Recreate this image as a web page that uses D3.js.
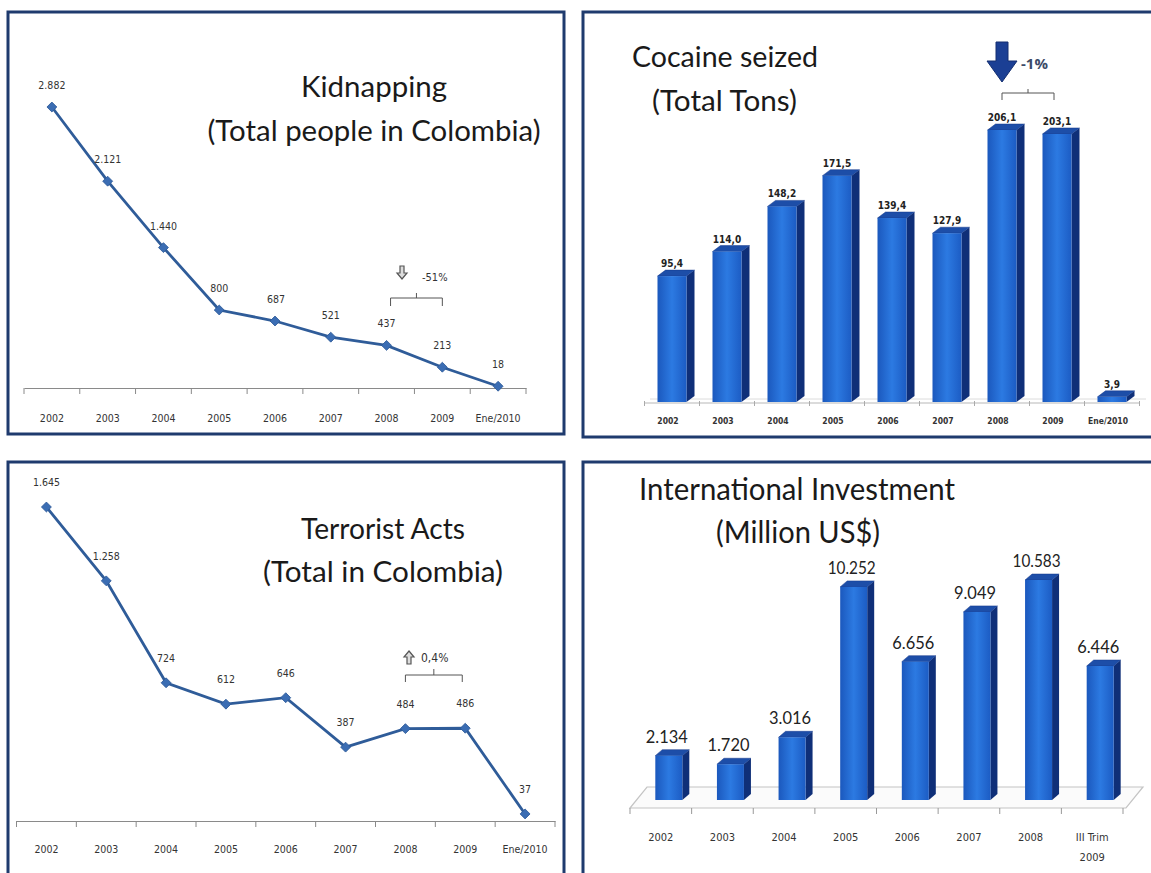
<!DOCTYPE html>
<html><head><meta charset="utf-8">
<script src="https://cdn.jsdelivr.net/npm/d3@7"></script>
<style>
html,body{margin:0;padding:0;background:#fff;}
svg{display:block;}
</style></head>
<body>
<svg id="c" width="1151" height="873"></svg>
<script>
// ---------- DATA ----------
const kidCats = ["2002","2003","2004","2005","2006","2007","2008","2009","Ene/2010"];
const kidValues = [2882,2121,1440,800,687,521,437,213,18];
const terrCats = ["2002","2003","2004","2005","2006","2007","2008","2009","Ene/2010"];
const terrValues = [1645,1258,724,612,646,387,484,486,37];
const cocCats = ["2002","2003","2004","2005","2006","2007","2008","2009","Ene/2010"];
const cocValues = [95.4,114.0,148.2,171.5,139.4,127.9,206.1,203.1,3.9];
const invCats = ["2002","2003","2004","2005","2006","2007","2008","III Trim|2009"];
const invValues = [2134,1720,3016,10252,6656,9049,10583,6446];
const kidNote = "-51%", terrNote = "0,4%", cocNote = "-1%";

const loc = d3.formatLocale({decimal:",", thousands:".", grouping:[3], currency:["$",""]});
const fInt = loc.format(",");
const fDec = loc.format(",.1f");

const svg = d3.select("#c");
const NAVY = "#1f3b6e";
const NARROW = "'Liberation Sans Narrow','DejaVu Sans Condensed',sans-serif";
const TITLE = "Lato,'Open Sans',sans-serif";

// gradients
const defs = svg.append("defs");
const g1 = defs.append("linearGradient").attr("id","front").attr("x1","0").attr("x2","1").attr("y1","0").attr("y2","0");
g1.append("stop").attr("offset","0").attr("stop-color","#1b58bd");
g1.append("stop").attr("offset","0.5").attr("stop-color","#2c7ae2");
g1.append("stop").attr("offset","1").attr("stop-color","#1c5cc4");

// panel borders
[[8,12,556,422],[583,12,580,425],[8,462,556,430],[583,462,580,430]].forEach(p=>{
  svg.append("rect").attr("x",p[0]).attr("y",p[1]).attr("width",p[2]).attr("height",p[3])
    .attr("fill","none").attr("stroke",NAVY).attr("stroke-width",3);
});

function title(lines){
  lines.forEach(l=>{
    svg.append("text").attr("x",l.x).attr("y",l.y).attr("font-family",TITLE)
      .attr("font-size",l.s).attr("fill","#1a1a1a").attr("text-anchor",l.a||"middle")
      .attr("textLength",l.w).attr("lengthAdjust","spacingAndGlyphs").text(l.t);
  });
}

// ---------- LINE CHART ----------
function lineChart(cats, vals, xr, base, topY, opt){
  const x = d3.scaleBand().domain(cats).range(xr).padding(0);
  const y = d3.scaleLinear().domain([0, d3.max(vals)]).range([base, topY]);
  const g = svg.append("g");
  const ax = g.append("g").attr("transform",`translate(0,${base})`)
    .call(d3.axisBottom(x).tickSize(0).tickPadding(opt.pad));
  ax.select(".domain").attr("stroke","#8a8a8a").attr("stroke-width",1.2);
  ax.selectAll("text").attr("font-family",NARROW).attr("font-size",10.5).attr("fill","#333");
  // boundary ticks
  const bounds = cats.map(c=>x(c)).concat([x(cats[cats.length-1])+x.bandwidth()]);
  g.selectAll(".bt").data(bounds).join("line").attr("x1",d=>d).attr("x2",d=>d)
    .attr("y1",base).attr("y2",base+6).attr("stroke","#8a8a8a").attr("stroke-width",1);
  const cx = c=>x(c)+x.bandwidth()/2;
  const pts = cats.map((c,i)=>[cx(c), y(vals[i])]);
  g.append("path").attr("d", d3.line()(pts)).attr("fill","none")
    .attr("stroke","#2f5c99").attr("stroke-width",2.8);
  g.selectAll(".m").data(pts).join("rect").attr("x",-3.5).attr("y",-3.5).attr("width",7).attr("height",7)
    .attr("transform",d=>`translate(${d[0]},${d[1]}) rotate(45)`).attr("fill","#3b6db3").attr("stroke","#2d5a98").attr("stroke-width",0.8);
  g.selectAll(".lb").data(vals).join("text").attr("x",(d,i)=>cx(cats[i])+(opt.dx?opt.dx[i]:0))
    .attr("y",(d,i)=>y(d)-opt.lo).attr("text-anchor","middle").attr("font-family",NARROW)
    .attr("font-size",10.5).attr("fill","#333").text(d=>fInt(d));
  return {x,y,cx};
}

// Kidnapping
const K = lineChart(kidCats, kidValues, [24,526], 388, 107, {pad:27, lo:18, dx:[0,0,0,0,1,0,0,0,0]});
title([{x:374,y:97,s:28,w:146,t:"Kidnapping"},{x:374,y:141,s:28,w:333,t:"(Total people in Colombia)"}]);

// Terrorist
const T = lineChart(terrCats, terrValues, [16.5,555], 821, 507, {pad:25, lo:21});
title([{x:383,y:539,s:28,w:164,t:"Terrorist Acts"},{x:383,y:582,s:28,w:240,t:"(Total in Colombia)"}]);

// bracket helper
function bracket(x1,x2,yTop,leg,tick,col){
  const xm=(x1+x2)/2;
  svg.append("path").attr("d",`M${x1},${yTop+leg} L${x1},${yTop} L${x2},${yTop} L${x2},${yTop+leg} M${xm},${yTop} L${xm},${yTop-tick}`)
    .attr("fill","none").attr("stroke",col).attr("stroke-width",1);
}
// kidnapping annotation
{
  const xa = K.cx("2008"), xb = K.cx("2009");
  bracket(xa+4, xb, 298, 8, 5, "#555");
  const ax=402, ay=266;
  svg.append("path").attr("d",`M${ax-2},${ay} h4 v7 h3 l-5,6 l-5,-6 h3 z`).attr("fill","#ddd").attr("stroke","#555").attr("stroke-width",1.2);
  svg.append("text").attr("x",422).attr("y",281).attr("font-family",NARROW).attr("font-size",11).attr("fill","#333").text(kidNote);
}
// terrorist annotation
{
  const xa = T.cx("2008"), xb = T.cx("2009");
  bracket(xa, xb-3, 675, 7, 6, "#555");
  const ax=409, ay=651;
  svg.append("path").attr("d",`M${ax},${ay} l5,6 h-3 v7 h-4 v-7 h-3 z`).attr("fill","#ddd").attr("stroke","#555").attr("stroke-width",1.2);
  svg.append("text").attr("x",421).attr("y",662).attr("font-family",NARROW).attr("font-size",12).attr("fill","#333").text(terrNote);
}

// ---------- 3D BAR CHART ----------
function bar3d(g, x0, w, top, base, dx, dy){
  g.append("path").attr("d",`M${x0+w},${top} L${x0+w+dx},${top+dy} L${x0+w+dx},${base+dy} L${x0+w},${base} Z`).attr("fill","#0f2f78");
  g.append("path").attr("d",`M${x0},${top} L${x0+dx},${top+dy} L${x0+w+dx},${top+dy} L${x0+w},${top} Z`).attr("fill","#1d4ea8").attr("stroke","#14398a").attr("stroke-width",0.5);
  g.append("rect").attr("x",x0).attr("y",top).attr("width",w).attr("height",Math.max(0,base-top)).attr("fill","url(#front)");
}

// Cocaine
{
  const x = d3.scaleBand().domain(cocCats).range([644.5,1139.5]).padding(0);
  const base = 402;
  const y = d3.scaleLinear().domain([0,206.1]).range([base,130]);
  const g = svg.append("g");
  // floor
  g.append("line").attr("x1",644).attr("x2",1140).attr("y1",base+1).attr("y2",base+1).attr("stroke","#b8b8b8").attr("stroke-width",1.2);
  g.append("line").attr("x1",650).attr("x2",1146).attr("y1",base-3).attr("y2",base-3).attr("stroke","#dcdcdc").attr("stroke-width",1);
  const bounds = cocCats.map(c=>x(c)).concat([1139.5]);
  g.selectAll(".t").data(bounds).join("line").attr("x1",d=>d).attr("x2",d=>d).attr("y1",base-1).attr("y2",base+4).attr("stroke","#aaa");
  const bw = 29;
  cocCats.forEach((c,i)=>{
    const cx = x(c)+x.bandwidth()/2;
    bar3d(g, cx-bw/2, bw, y(cocValues[i]), base, 8, -6);
    g.append("text").attr("x",cx).attr("y",y(cocValues[i])-9).attr("text-anchor","middle")
      .attr("font-family",NARROW).attr("font-weight","bold").attr("font-size",10).attr("fill","#222").text(fDec(cocValues[i]));
  });
  const ax = g.append("g").attr("transform",`translate(-4,${base})`).call(d3.axisBottom(x).tickSize(0).tickPadding(16));
  ax.select(".domain").remove();
  ax.selectAll("text").attr("font-family",NARROW).attr("font-size",8.5).attr("font-weight","bold").attr("fill","#333");
  title([{x:632,y:67,s:28,w:186,a:"start",t:"Cocaine seized"},{x:652,y:111,s:28,w:145,a:"start",t:"(Total Tons)"}]);
  // annotation
  const xa = x(cocCats[6])+x.bandwidth()/2, xb = x(cocCats[7])+x.bandwidth()/2;
  bracket(xa, xb-3, 93, 7, 4, "#555");
  svg.append("path").attr("d","M996,42 h12 v19 h9 l-15,21 l-15,-21 h9 z").attr("fill","#1b3f94").attr("stroke","#142f70").attr("stroke-width",1);
  svg.append("text").attr("x",1021).attr("y",69).attr("font-family","'Open Sans',sans-serif").attr("font-weight","bold")
    .attr("font-size",15).attr("fill","#3c4b68").text(cocNote);
}

// Investment
{
  const x = d3.scaleBand().domain(invCats).range([638,1131]).padding(0);
  const base = 800;
  const y = d3.scaleLinear().domain([0,10583]).range([base,580]);
  const g = svg.append("g");
  // floor parallelogram
  g.append("path").attr("d","M630,808 L647,787 L1143,787 L1126,808 Z").attr("fill","#fbfbfb").attr("stroke","#c4c4c4").attr("stroke-width",1.2);
  const bounds = invCats.map(c=>x(c)-8).concat([1131-8]);
  g.selectAll(".t").data(bounds).join("line").attr("x1",d=>d).attr("x2",d=>d).attr("y1",808).attr("y2",814).attr("stroke","#999");
  const bw = 27;
  invCats.forEach((c,i)=>{
    const cx = x(c)+x.bandwidth()/2;
    bar3d(g, cx-bw/2, bw, y(invValues[i]), base, 7, -6);
    g.append("text").attr("x",cx-2).attr("y",y(invValues[i])-13).attr("text-anchor","middle")
      .attr("font-family",TITLE).attr("font-size",17).attr("fill","#222")
      .attr("textLength", fInt(invValues[i]).length>5?48:42).attr("lengthAdjust","spacingAndGlyphs").text(fInt(invValues[i]));
  });
  const ax = g.append("g").attr("transform",`translate(-8,808)`).call(d3.axisBottom(x).tickSize(0).tickPadding(0).tickFormat(()=>""));
  ax.select(".domain").remove();
  ax.selectAll(".tick").each(function(d){
    const parts = d.split("|");
    const t = d3.select(this).append("text").attr("text-anchor","middle").attr("font-family",NARROW)
      .attr("font-size",11).attr("fill","#333");
    parts.forEach((p,j)=>t.append("tspan").attr("x",0).attr("y",33+j*20).text(p));
  });
  title([{x:639,y:500,s:30,w:316,a:"start",t:"International Investment"},{x:716,y:543,s:30,w:164,a:"start",t:"(Million US$)"}]);
}
</script>
</body></html>
